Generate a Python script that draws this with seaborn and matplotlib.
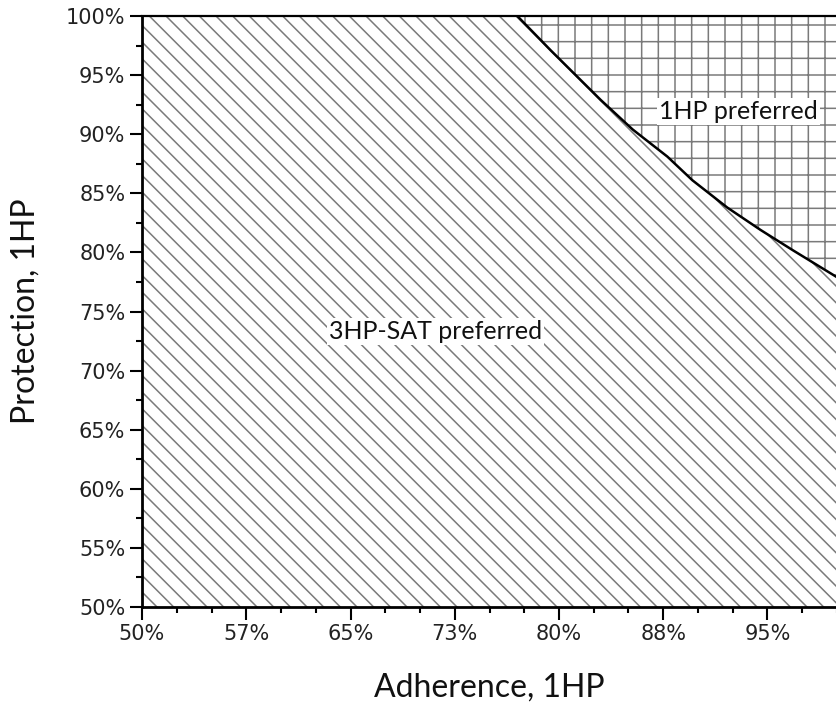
import matplotlib
matplotlib.use("Agg")
import matplotlib.pyplot as plt
import seaborn as sns
import numpy as np
import pandas as pd

# Boundary between the two preference regions (values in %)
adherence = [77.0, 79.4, 83.0, 85.3, 87.8, 89.6, 92.1, 94.5, 96.8, 100.0]
protection = [100.0, 97.1, 92.9, 90.4, 88.1, 86.1, 83.8, 81.9, 80.2, 77.9]

x_ticks = [50, 57.5, 65, 72.5, 80, 87.5, 95]
x_tick_labels = ["50%", "57%", "65%", "73%", "80%", "88%", "95%"]
y_ticks = [50, 55, 60, 65, 70, 75, 80, 85, 90, 95, 100]
y_tick_labels = ["50%", "55%", "60%", "65%", "70%", "75%", "80%", "85%", "90%", "95%", "100%"]

region_labels = ["1HP preferred", "3HP-SAT preferred"]

sns.set_theme(style="ticks")
plt.rcParams["hatch.linewidth"] = 1.1
plt.rcParams["hatch.color"] = "#7a7a7a"

fig = plt.figure(figsize=(8.37, 7.10), dpi=100)
ax = fig.add_axes([142 / 837, 1 - 607 / 710, 1 - 142 / 837, (607 - 16) / 710])

df = pd.DataFrame({"adherence": adherence, "protection": protection})

# 3HP-SAT region (below boundary)
x_low = [50.0] + adherence
y_low = [100.0] + protection
ax.fill_between(x_low, 50, y_low, facecolor="white", edgecolor="#7a7a7a",
                hatch="\\\\", linewidth=0, zorder=1)
# 1HP region (above boundary)
ax.fill_between(adherence, protection, 100, facecolor="white", edgecolor="#7a7a7a",
                hatch="+", linewidth=0, zorder=1)

sns.lineplot(data=df, x="adherence", y="protection", color="black",
             linewidth=1.8, ax=ax, zorder=3, sort=False)

ax.set_xlim(50, 100)
ax.set_ylim(50, 100)
ax.set_xticks(x_ticks)
ax.set_xticklabels(x_tick_labels)
ax.set_yticks(y_ticks)
ax.set_yticklabels(y_tick_labels)
ax.set_xticks(np.arange(50, 100.1, 2.5), minor=True)
ax.set_yticks(np.arange(50, 100.1, 2.5), minor=True)

ax.tick_params(axis="both", which="major", length=9, width=1.5, color="black",
               labelsize=15, labelcolor="#222222", pad=3)
ax.tick_params(axis="both", which="minor", length=4.5, width=1.5, color="black")
for lab in ax.get_xticklabels() + ax.get_yticklabels():
    lab.set_family("DejaVu Sans")

for s in ["left", "bottom"]:
    ax.spines[s].set_linewidth(2.0)
    ax.spines[s].set_color("black")
ax.spines["top"].set_linewidth(1.6)
ax.spines["top"].set_color("black")
ax.spines["right"].set_visible(False)

ax.set_xlabel("Adherence, 1HP", fontsize=23, family="Lato", color="#111111")
ax.set_ylabel("Protection, 1HP", fontsize=23, family="Lato", color="#111111")
ax.xaxis.set_label_coords(0.5, -(688 - 607) / 591, transform=ax.transAxes)
ax.yaxis.set_label_coords(-(142 - 26) / 695, 0.5, transform=ax.transAxes)
ax.xaxis.label.set_va("center")
ax.yaxis.label.set_va("center")

bbox = dict(facecolor="white", edgecolor="none", pad=1.5)
ax.text(92.9, 91.9, region_labels[0], ha="center", va="center", fontsize=18,
        family="Lato", color="#111111", bbox=bbox, zorder=4)
ax.text(71.1, 73.3, region_labels[1], ha="center", va="center", fontsize=18,
        family="Lato", color="#111111", bbox=bbox, zorder=4)

ax.set_facecolor("white")
fig.savefig("out.png", dpi=100, facecolor="white")
